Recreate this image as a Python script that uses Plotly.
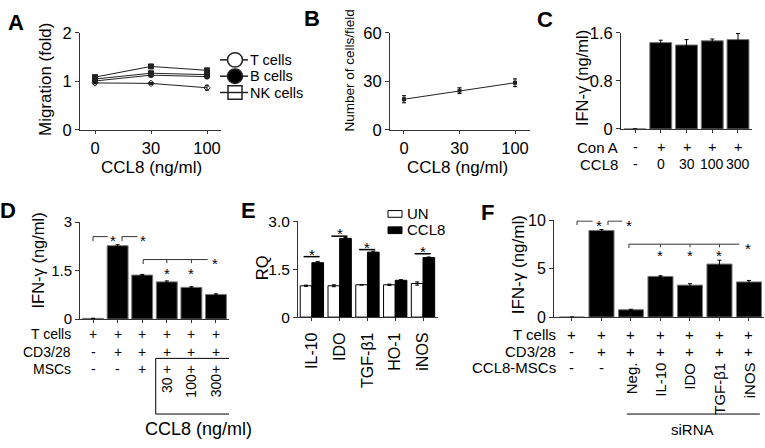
import plotly.graph_objects as go

W, H = 765, 448


def px(x):
    return x / W


def py(y):
    return 1 - y / H


FONT = "Liberation Sans, Arial, sans-serif"
AX = "#333333"

# ---------------- data ----------------
# Panel A
a_dose_labels = ["0", "30", "100"]
a_t_cells = [0.97, 0.96, 0.87]
a_t_err = [0.02, 0.02, 0.05]
a_b_cells = [1.01, 1.13, 1.10]
a_b_err = [0.02, 0.02, 0.04]
a_nk_cells = [1.09, 1.31, 1.23]
a_nk_err = [0.02, 0.02, 0.02]
a_extra = [1.05, 1.17, 1.14]
a_extra_err = [0.02, 0.02, 0.03]
a_yticks = [0, 1, 2]

# Panel B
b_dose_labels = ["0", "30", "100"]
b_cells = [19.0, 24.3, 29.2]
b_err = [2.2, 1.8, 2.4]
b_yticks = [0, 30, 60]

# Panel C
c_values = [0.0, 1.44, 1.40, 1.47, 1.49]
c_err = [0.0, 0.04, 0.09, 0.03, 0.10]
c_con_a = ["-", "+", "+", "+", "+"]
c_ccl8 = ["-", "0", "30", "100", "300"]
c_yticks = [0, 0.8, 1.6]

# Panel D
d_values = [0.02, 2.27, 1.36, 1.15, 0.98, 0.76]
d_err = [0.0, 0.03, 0.02, 0.03, 0.02, 0.02]
d_tcells = ["+", "+", "+", "+", "+", "+"]
d_cd328 = ["-", "+", "+", "+", "+", "+"]
d_mscs = ["-", "-", "+", "+", "+", "+"]
d_ccl8 = ["", "", "", "30", "100", "300"]
d_yticks = [0, 1.5, 3]
d_yticklabels = ["0", "1.5", "3"]
d_pair_brackets = [(0.0, 0.82), (1.18, 2.03)]   # (start, star position)
d_pair_y = 2.55
d_long_bracket = (2.04, 4.96)
d_long_y = 1.84
d_under_stars = [3, 4]
d_under_y = 1.54

# Panel E
e_genes = ["IL-10", "IDO", "TGF-β1", "HO-1", "iNOS"]
e_un = [0.98, 0.98, 1.01, 1.01, 1.05]
e_un_err = [0.02, 0.03, 0.01, 0.02, 0.05]
e_ccl8 = [1.70, 2.46, 2.03, 1.15, 1.86]
e_ccl8_err = [0.04, 0.03, 0.03, 0.02, 0.02]
e_sig_y = [1.89, 2.53, 2.11, None, 1.98]
e_yticks = [0, 1.5, 3.0]
e_yticklabels = ["0", "1.5", "3.0"]

# Panel F
f_values = [0.0, 8.94, 0.76, 4.2, 3.3, 5.47, 3.63]
f_err = [0.0, 0.1, 0.05, 0.07, 0.15, 0.4, 0.15]
f_tcells = ["+", "+", "+", "+", "+", "+", "+"]
f_cd328 = ["-", "+", "+", "+", "+", "+", "+"]
f_mscs = ["-", "-", "", "", "", "", ""]
f_sirna = ["", "", "Neg.", "IL-10", "IDO", "TGF-β1", "iNOS"]
f_yticks = [0, 5, 10]
f_pair_brackets = [(0.17, 0.92), (1.22, 1.92)]
f_pair_y = 9.9
f_long_bracket = (1.93, 5.97)
f_long_y = 7.52
f_under_stars = [3, 4, 5]
f_under_y = 6.73

fig = go.Figure()


def err(arr):
    return dict(type="data", array=arr, color="black", thickness=1, width=2)


# ---- A ----
ax_idx = list(range(len(a_dose_labels)))
for vals, e, sym in [(a_nk_cells, a_nk_err, "square"), (a_extra, a_extra_err, "square"),
                     (a_b_cells, a_b_err, "circle"), (a_t_cells, a_t_err, "diamond-open")]:
    fig.add_trace(go.Scatter(x=ax_idx, y=vals, error_y=err(e), mode="lines+markers",
                             line=dict(color="#222", width=1),
                             marker=dict(symbol=sym, size=5, color="#222",
                                         line=dict(color="#222", width=1)),
                             xaxis="x", yaxis="y", showlegend=False))

# ---- B ----
bx_idx = list(range(len(b_dose_labels)))
fig.add_trace(go.Scatter(x=bx_idx, y=b_cells, error_y=err(b_err), mode="lines+markers",
                         line=dict(color="#222", width=1),
                         marker=dict(symbol="square", size=4, color="#222"),
                         xaxis="x2", yaxis="y2", showlegend=False))

# ---- C ----
fig.add_trace(go.Bar(x=list(range(len(c_values))), y=c_values, error_y=err(c_err),
                     width=0.85, marker=dict(color="black", line=dict(color="#777", width=1)),
                     xaxis="x3", yaxis="y3", showlegend=False))

# ---- D ----
fig.add_trace(go.Bar(x=list(range(len(d_values))), y=d_values, error_y=err(d_err),
                     width=0.85, marker=dict(color="black", line=dict(color="#777", width=1)),
                     xaxis="x4", yaxis="y4", showlegend=False))

# ---- E ----
e_idx = list(range(len(e_genes)))
fig.add_trace(go.Bar(x=e_idx, y=e_un, error_y=err(e_un_err), width=0.42, offset=-0.42,
                     marker=dict(color="white", line=dict(color="black", width=1)),
                     xaxis="x5", yaxis="y5", showlegend=False))
fig.add_trace(go.Bar(x=e_idx, y=e_ccl8, error_y=err(e_ccl8_err), width=0.42, offset=0.0,
                     marker=dict(color="black", line=dict(color="black", width=1)),
                     xaxis="x5", yaxis="y5", showlegend=False))

# ---- F ----
fig.add_trace(go.Bar(x=list(range(len(f_values))), y=f_values, error_y=err(f_err),
                     width=0.85, marker=dict(color="black", line=dict(color="#777", width=1)),
                     xaxis="x6", yaxis="y6", showlegend=False))


def xax(dom, rng, tickvals=None, ticktext=None, showlabels=True, size=16, angle=None, standoff=None):
    d = dict(domain=[px(dom[0]), px(dom[1])], range=rng, showline=True, linecolor=AX,
             linewidth=1, ticks="outside", ticklen=3, tickcolor=AX, showgrid=False,
             zeroline=False, tickvals=tickvals, ticktext=ticktext,
             showticklabels=showlabels, tickfont=dict(family=FONT, size=size, color="black"),
             fixedrange=True)
    if angle is not None:
        d["tickangle"] = angle
    if standoff is not None:
        d["ticklabelstandoff"] = standoff
    return d


def yax(dom, rng, tickvals, ticktext=None, size=16):
    return dict(domain=[py(dom[1]), py(dom[0])], range=rng, showline=True, linecolor=AX,
                linewidth=1, ticks="outside", ticklen=4, tickcolor=AX, showgrid=False,
                zeroline=False, tickvals=tickvals, ticktext=ticktext,
                tickfont=dict(family=FONT, size=size, color="black"), fixedrange=True)


layout = dict(
    width=W, height=H, autosize=False, margin=dict(l=0, r=0, t=0, b=0),
    paper_bgcolor="white", plot_bgcolor="white", barmode="overlay",
    font=dict(family=FONT, color="black"),
    xaxis=dict(xax((80, 221), [-0.268, 2.25], ax_idx, a_dose_labels, size=16.5), anchor="y"),
    yaxis=dict(yax((25, 126), [0, 2], a_yticks, size=16.5), anchor="x"),
    xaxis2=dict(xax((390, 530), [-0.252, 2.27], bx_idx, b_dose_labels, size=16.5), anchor="y2"),
    yaxis2=dict(yax((25, 126), [0, 60], b_yticks, size=16.5), anchor="x2"),
    xaxis3=dict(xax((621, 752), [-0.544, 4.544], list(range(len(c_values))), None, False), anchor="y3"),
    yaxis3=dict(yax((25, 125), [0, 1.6], c_yticks, ["0", "0.8", "1.6"], size=16.5), anchor="x3"),
    xaxis4=dict(xax((80, 229), [-0.53, 5.53], list(range(len(d_values))), None, False), anchor="y4"),
    yaxis4=dict(yax((222, 323), [0, 3], d_yticks, d_yticklabels, 15), anchor="x4"),
    xaxis5=dict(xax((298, 438), [-0.5, 4.54], e_idx, e_genes, True, 16, -90, standoff=5), anchor="y5"),
    yaxis5=dict(yax((221, 321), [0, 3], e_yticks, e_yticklabels, 15.5), anchor="x5"),
    xaxis6=dict(xax((554, 764), [-0.61, 6.51], list(range(len(f_values))), None, False), anchor="y6"),
    yaxis6=dict(yax((220, 321), [0, 10], f_yticks, None, 16), anchor="x6"),
)
fig.update_layout(**layout)

ann = []
shapes = []


def text(x, y, s, size=15, xref="paper", yref="paper", xa="center", ya="middle", angle=0,
         bold=False, yshift=0, family=FONT):
    if bold:
        s = "<b>" + s + "</b>"
    ann.append(dict(x=x, y=y, text=s, xref=xref, yref=yref, xanchor=xa, yanchor=ya,
                    showarrow=False, textangle=angle, yshift=yshift,
                    font=dict(family=family, size=size, color="black")))


# panel letters
for letter, lx, ly in [("A", 16, 14), ("B", 312, 10), ("C", 545, 11),
                       ("D", 8, 210), ("E", 248, 210), ("F", 488, 212)]:
    text(px(lx), py(ly), letter, size=22, bold=True)

# axis titles
text(px(45), py(74), "Migration (fold)", 17, angle=-90)
text(px(151), py(165), "CCL8 (ng/ml)", 17)
text(px(349), py(64), "Number of cells/field", 13.5, angle=-90)
text(px(457), py(165), "CCL8 (ng/ml)", 17)
text(px(582), py(72), "IFN-γ (ng/ml)", 16.5, angle=-90)
text(px(38), py(262), "IFN-γ (ng/ml)", 16.5, angle=-90)
text(px(262), py(270), "RQ", 16.5, angle=-90)
text(px(518), py(267), "IFN-γ (ng/ml)", 17, angle=-90)

# legend A
for i, (name, sym) in enumerate([("T cells", "open"), ("B cells", "filled"), ("NK cells", "square")]):
    cy = [53, 70, 87][i]
    shapes.append(dict(type="line", xref="paper", yref="paper", x0=px(220), x1=px(248),
                       y0=py(cy), y1=py(cy), line=dict(color="#222", width=1.5)))
    if sym == "square":
        shapes.append(dict(type="rect", xref="paper", yref="paper", x0=px(228), x1=px(242),
                           y0=py(cy + 7), y1=py(cy - 7), fillcolor="white",
                           line=dict(color="#222", width=1.5)))
        shapes.append(dict(type="line", xref="paper", yref="paper", x0=px(228), x1=px(242),
                           y0=py(cy), y1=py(cy), line=dict(color="#222", width=1.5)))
    else:
        shapes.append(dict(type="circle", xref="paper", yref="paper", x0=px(227.5), x1=px(242.5),
                           y0=py(cy + 7.5), y1=py(cy - 7.5),
                           fillcolor="white" if sym == "open" else "black",
                           line=dict(color="#222", width=1.5)))
    text(px(248), py(cy), name, 14.5, xa="left")

# rows C
text(px(620), py(144), "Con A", 15, xa="right")
text(px(620), py(162), "CCL8", 15, xa="right")
for i, (s1, s2) in enumerate(zip(c_con_a, c_ccl8)):
    text(i, py(144), s1, 14.5, xref="x3")
    text(i, py(162), s2, 14, xref="x3")

# rows D
for lab, yy in [("T cells", 339), ("CD3/28", 357), ("MSCs", 375)]:
    text(px(73), py(yy), lab, 14, xa="right")
for i in range(len(d_values)):
    text(i, py(339), d_tcells[i], 14, xref="x4")
    text(i, py(357), d_cd328[i], 14, xref="x4")
    text(i, py(375), d_mscs[i], 14, xref="x4")
    if d_ccl8[i]:
        text(i, py(392), d_ccl8[i], 14, xref="x4", angle=-90)
shapes.append(dict(type="rect", xref="x4", yref="paper", x0=2.55, x1=5.8, y0=py(422), y1=py(364),
                   line=dict(color="black", width=1)))
text(4.3, py(438), "CCL8 (ng/ml)", 18, xref="x4")


# brackets
def bracket_pair(xref, yref, items, yv, drop, gap=0.22):
    for s, e in items:
        shapes.append(dict(type="path", xref=xref, yref=yref,
                           path=f"M {s} {yv - drop} L {s} {yv} L {e - gap} {yv}",
                           line=dict(color="#333", width=1)))
        text(e, yv, "*", 15, xref=xref, yref=yref, yshift=-4)


def bracket_long(xref, yref, span, yv, drop, ticks, under_y):
    s, e = span
    shapes.append(dict(type="path", xref=xref, yref=yref,
                       path=f"M {s} {yv - drop} L {s} {yv} L {e - 0.3} {yv}",
                       line=dict(color="#333", width=1)))
    for t in ticks:
        shapes.append(dict(type="line", xref=xref, yref=yref, x0=t, x1=t, y0=yv, y1=yv - drop * 0.8,
                           line=dict(color="#333", width=1)))
        text(t, under_y, "*", 15, xref=xref, yref=yref, yshift=-4)
    text(e, yv, "*", 15, xref=xref, yref=yref, yshift=-4)


bracket_pair("x4", "y4", d_pair_brackets, d_pair_y, 0.14)
bracket_long("x4", "y4", d_long_bracket, d_long_y, 0.14, d_under_stars, d_under_y)

# E legend and significance
shapes.append(dict(type="rect", xref="paper", yref="paper", x0=px(388), x1=px(402), y0=py(217), y1=py(210),
                   fillcolor="white", line=dict(color="black", width=1)))
shapes.append(dict(type="rect", xref="paper", yref="paper", x0=px(388), x1=px(402), y0=py(234), y1=py(227),
                   fillcolor="black", line=dict(color="black", width=1)))
text(px(405), py(213), "UN", 15, xa="left")
text(px(405), py(230), "CCL8", 15, xa="left")
for i, sy in enumerate(e_sig_y):
    if sy is None:
        continue
    shapes.append(dict(type="line", xref="x5", yref="y5", x0=i - 0.3, x1=i + 0.28, y0=sy, y1=sy,
                       line=dict(color="black", width=1.5)))
    text(i, sy + 0.2, "*", 15, xref="x5", yref="y5", yshift=-4)

# rows F
for lab, yy in [("T cells", 339), ("CD3/28", 357), ("CCL8-MSCs", 373)]:
    text(px(558), py(yy), lab, 15, xa="right")
for i in range(len(f_values)):
    text(i, py(339), f_tcells[i], 15, xref="x6")
    text(i, py(357), f_cd328[i], 15, xref="x6")
    if f_mscs[i]:
        text(i, py(373), f_mscs[i], 15, xref="x6")
    if f_sirna[i]:
        text(i, py(366), f_sirna[i], 15, xref="x6", ya="top", angle=-90)
shapes.append(dict(type="line", xref="x6", yref="paper", x0=1.86, x1=6.37, y0=py(422), y1=py(422),
                   line=dict(color="black", width=1)))
text(4.1, py(438), "siRNA", 15, xref="x6")

bracket_pair("x6", "y6", f_pair_brackets, f_pair_y, 0.4)
bracket_long("x6", "y6", f_long_bracket, f_long_y, 0.4, f_under_stars, f_under_y)

fig.update_layout(annotations=ann, shapes=shapes)
fig.write_html("out.html", config={"displayModeBar": False},
               post_script="document.body.style.margin='0';document.body.style.overflow='hidden';")
